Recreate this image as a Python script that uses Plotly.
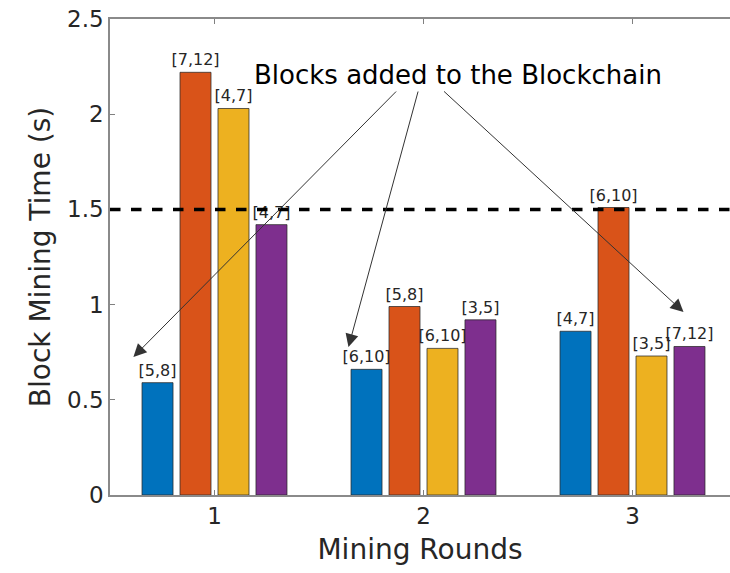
import plotly.graph_objects as go

rounds = [1, 2, 3]
series_names = ["Miner A", "Miner B", "Miner C", "Miner D"]
colors = ["#0072BD", "#D95319", "#EDB120", "#7E2F8E"]
values = [
    [0.59, 0.66, 0.86],
    [2.22, 0.99, 1.51],
    [2.03, 0.77, 0.73],
    [1.42, 0.92, 0.78],
]
labels = [
    ["[5,8]", "[6,10]", "[4,7]"],
    ["[7,12]", "[5,8]", "[6,10]"],
    ["[4,7]", "[6,10]", "[3,5]"],
    ["[4,7]", "[3,5]", "[7,12]"],
]
threshold = 1.5
y_ticks = [0, 0.5, 1, 1.5, 2, 2.5]
y_ticktext = ["0", "0.5", "1", "1.5", "2", "2.5"]

FONT = "DejaVu Sans"
TXT = "#262626"

fig = go.Figure()
for name, col, vals, labs in zip(series_names, colors, values, labels):
    fig.add_trace(go.Bar(
        x=rounds, y=vals, name=name, text=labs,
        textposition="outside", cliponaxis=False, constraintext="none",
        textfont=dict(family=FONT, size=16, color=TXT),
        marker=dict(color=col, line=dict(color="rgba(40,40,40,0.75)", width=1)),
        showlegend=False,
    ))

fig.add_shape(type="line", xref="paper", x0=0, x1=1, yref="y", y0=threshold, y1=threshold,
              line=dict(color="black", width=3.5, dash="dash"))

fig.add_annotation(x=2.167, y=2.206, xref="x", yref="y", text="Blocks added to the Blockchain",
                   showarrow=False, font=dict(family=FONT, size=26, color="black"))

arrows = [
    (1.876, 2.127, 0.612, 0.725),
    (1.976, 2.127, 1.641, 0.777),
    (2.091, 2.127, 3.244, 0.961),
]
for ax_, ay_, x_, y_ in arrows:
    fig.add_annotation(x=x_, y=y_, xref="x", yref="y", ax=ax_, ay=ay_, axref="x", ayref="y",
                       text="", showarrow=True, arrowhead=2, arrowsize=2.6, arrowwidth=1,
                       arrowcolor="#333333", standoff=0, startstandoff=0)

fig.update_layout(
    width=730, height=573,
    margin=dict(l=110, r=0, t=19, b=78),
    plot_bgcolor="white", paper_bgcolor="white",
    barmode="group", bargap=0.273, bargroupgap=0.184,
    font=dict(family=FONT, color=TXT),
    xaxis=dict(
        range=[0.5, 3.4665], tickvals=rounds, ticktext=[str(r) for r in rounds],
        ticks="inside", ticklen=5, tickcolor="#808080",
        showline=True, linecolor="#8a8a8a", linewidth=1.5, mirror="ticks",
        showgrid=False, zeroline=False,
        tickfont=dict(family=FONT, size=23, color=TXT),
        title=dict(text="Mining Rounds", font=dict(family=FONT, size=28, color=TXT), standoff=11),
    ),
    yaxis=dict(
        range=[0, 2.5], tickvals=y_ticks, ticktext=y_ticktext,
        ticks="inside", ticklen=5, tickcolor="#808080",
        showline=True, linecolor="#8a8a8a", linewidth=1.5, mirror=False,
        showgrid=False, zeroline=False,
        tickfont=dict(family=FONT, size=23, color=TXT),
        title=dict(text="Block Mining Time (s)", font=dict(family=FONT, size=28, color=TXT), standoff=8),
    ),
)

fig.write_html("out.html")
